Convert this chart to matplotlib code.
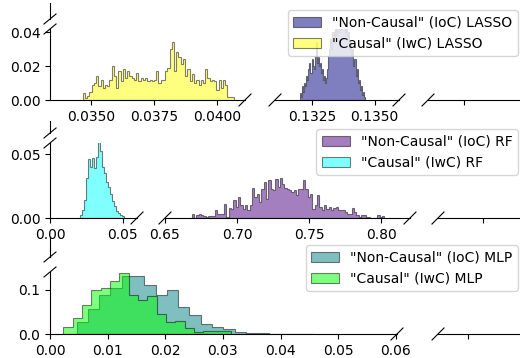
import numpy as np
import matplotlib.pyplot as plt
from matplotlib.lines import Line2D

W, H = 520, 358
plt.rcParams['font.size'] = 10

# LASSO weights per bin (fraction of runs)
lasso_ioc_start, lasso_ioc_width = 0.13202, 0.0000419
lasso_ioc = [0.004, 0.002, 0.008, 0.005, 0.010, 0.008, 0.014, 0.012, 0.018, 0.022,
             0.016, 0.024, 0.020, 0.018, 0.026, 0.034, 0.022, 0.025, 0.020, 0.022,
             0.016, 0.018, 0.012, 0.014, 0.010, 0.013, 0.018, 0.026, 0.030, 0.036,
             0.030, 0.040, 0.034, 0.046, 0.038, 0.044, 0.050, 0.040, 0.048, 0.042,
             0.052, 0.044, 0.048, 0.040, 0.046, 0.036, 0.040, 0.030, 0.034, 0.026,
             0.030, 0.020, 0.024, 0.014, 0.018, 0.010, 0.012, 0.006, 0.008, 0.003,
             0.005, 0.002]
lasso_iwc_start, lasso_iwc_width = 0.03466, 0.0000885
lasso_iwc = [0.004, 0.001, 0.0025, 0.005, 0.009, 0.010, 0.014, 0.008, 0.012, 0.007,
             0.009, 0.008, 0.012, 0.020, 0.014, 0.007, 0.017, 0.011, 0.018, 0.013,
             0.017, 0.014, 0.013, 0.012, 0.016, 0.011, 0.013, 0.012, 0.013, 0.011,
             0.012, 0.011, 0.012, 0.017, 0.010, 0.012, 0.012, 0.017, 0.019, 0.030,
             0.034, 0.017, 0.028, 0.025, 0.021, 0.024, 0.014, 0.018, 0.011, 0.015,
             0.010, 0.012, 0.009, 0.012, 0.010, 0.018, 0.013, 0.011, 0.012, 0.011,
             0.006, 0.012, 0.007, 0.012, 0.009, 0.0015, 0.002, 0.002]

# RF
rf_ioc_start, rf_ioc_width = 0.6685, 0.00161
rf_ioc = [0.0034, 0, 0.0021, 0.0034, 0.002, 0.0015, 0.0008, 0.0015, 0.0015, 0.0015,
          0.006, 0.0034, 0.0034, 0.0034, 0.0112, 0.0008, 0.0078, 0.0067, 0.0143, 0.0086,
          0.0164, 0.0099, 0.0073, 0.0104, 0.006, 0.0104, 0.0235, 0.0164, 0.019, 0.0125,
          0.0229, 0.0281, 0.015, 0.0294, 0.0229, 0.0216, 0.0307, 0.0242, 0.0313, 0.0268,
          0.0235, 0.0229, 0.0216, 0.0203, 0.0216, 0.0182, 0.0229, 0.0229, 0.0294, 0.0229,
          0.0164, 0.019, 0.0073, 0.0099, 0.0177, 0.0086, 0.006, 0.0104, 0.0073, 0.0086,
          0.006, 0.0078, 0.0086, 0.0065, 0.006, 0.006, 0.0047, 0.0034, 0.0034, 0.0078,
          0.0047, 0.0021, 0.0008, 0.0021, 0.0026, 0.0008, 0.0008, 0, 0, 0,
          0.0021, 0.0008, 0.0015]
rf_iwc_start, rf_iwc_width = 0.0208, 0.00136
rf_iwc = [0.0026, 0.0065, 0.014, 0.031, 0.046, 0.040, 0.047, 0.039, 0.048, 0.059,
          0.052, 0.040, 0.035, 0.028, 0.024, 0.019, 0.013, 0.009, 0.0057, 0.004,
          0.0026, 0.0018]

# MLP
mlp_ioc_start, mlp_ioc_width = 0.0046, 0.00196
mlp_ioc = [0.027, 0.057, 0.089, 0.104, 0.130, 0.131, 0.110, 0.087, 0.100, 0.062,
           0.042, 0.023, 0.015, 0.011, 0.004, 0.002, 0.002, 0, 0, 0, 0.001]
mlp_iwc_start, mlp_iwc_width = 0.0023, 0.00162
mlp_iwc = [0.016, 0.036, 0.065, 0.100, 0.104, 0.120, 0.138, 0.089, 0.077, 0.085,
           0.045, 0.027, 0.030, 0.0135, 0.0045, 0.006, 0.006, 0.006]

fig = plt.figure(figsize=(W / 100, H / 100), dpi=100)


def box(x0, x1, y0, y1):
    return fig.add_axes([x0 / W, 1 - y1 / H, (x1 - x0) / W, (y1 - y0) / H])


def slash(x, y, dx=6, dy=6):
    fig.add_artist(Line2D([(x - dx) / W, (x + dx) / W], [1 - (y + dy) / H, 1 - (y - dy) / H],
                          color='k', lw=0.8))


def hist(ax, start, width, weights, color):
    edges = start + width * np.arange(len(weights) + 1)
    _, _, p = ax.hist(edges[:-1] + width / 2, bins=edges, weights=weights,
                      histtype='stepfilled', color=color, alpha=0.5, edgecolor='k', lw=0.8)
    return p[0]


def make_row(upper, lower, segs, ymax, yticks, yfmt):
    top = box(segs[0][0], segs[0][1], *upper)
    top.spines[['top', 'right', 'bottom']].set_visible(False)
    top.set_xticks([])
    top.set_yticks([])
    top.patch.set_visible(False)
    slash(50, upper[1], 6, 5)
    slash(50, lower[0], 6, 5)
    axes = []
    for i, (x0, x1, xlim, xticks, xfmt) in enumerate(segs):
        ax = box(x0, x1, *lower)
        ax.patch.set_visible(False)
        ax.set_xlim(xlim)
        ax.set_ylim(0, ymax)
        ax.spines[['top', 'right']].set_visible(False)
        if i > 0:
            ax.spines['left'].set_visible(False)
            ax.set_yticks([])
            slash(x0, lower[1])
        else:
            ax.set_yticks(yticks)
            ax.set_yticklabels([yfmt % v for v in yticks])
        if x1 < W:
            slash(x1, lower[1])
        ax.set_xticks(xticks)
        ax.set_xticklabels([xfmt % v if xfmt else '' for v in xticks])
        axes.append(ax)
    return axes


# row 1: LASSO
a = make_row((3, 19), (29, 100),
             [(50, 245, (0.03336, 0.04111), [0.035, 0.0375, 0.04], '%.4f'),
              (275, 399, (0.13102, 0.13598), [0.1325, 0.135], '%.4f'),
              (428, 545, (0, 1), [0.31], None)],
             (100 - 29) / 1700, [0, 0.02, 0.04], '%.2f')
h1 = hist(a[1], lasso_ioc_start, lasso_ioc_width, lasso_ioc, 'navy')
h2 = hist(a[0], lasso_iwc_start, lasso_iwc_width, lasso_iwc, 'yellow')
fig.legend([h1, h2], ['"Non-Causal" (IoC) LASSO', '"Causal" (IwC) LASSO'],
           loc='upper right', bbox_to_anchor=(518 / W, 1 - 10 / H), borderaxespad=0)

# row 2: RF
a = make_row((121, 133), (143, 218),
             [(50, 137, (0, 0.06), [0, 0.05], '%.2f'),
              (165, 410, (0.65, 0.82), [0.65, 0.7, 0.75, 0.8], '%.2f'),
              (438, 545, (0, 1), [0.42], None)],
             75 / 1280, [0, 0.05], '%.2f')
h1 = hist(a[1], rf_ioc_start, rf_ioc_width, rf_ioc, 'indigo')
h2 = hist(a[0], rf_iwc_start, rf_iwc_width, rf_iwc, 'cyan')
fig.legend([h1, h2], ['"Non-Causal" (IoC) RF', '"Causal" (IwC) RF'],
           loc='upper right', bbox_to_anchor=(518 / W, 1 - 129 / H), borderaxespad=0)

# row 3: MLP
a = make_row((237, 257), (272, 334),
             [(50, 397, (0, 0.0602), [0, 0.01, 0.02, 0.03, 0.04, 0.05, 0.06], '%.2f'),
              (438, 545, (0, 1), [0.28], None)],
             62 / 443, [0, 0.1], '%.1f')
h1 = hist(a[0], mlp_ioc_start, mlp_ioc_width, mlp_ioc, 'teal')
h2 = hist(a[0], mlp_iwc_start, mlp_iwc_width, mlp_iwc, 'lime')
fig.legend([h1, h2], ['"Non-Causal" (IoC) MLP', '"Causal" (IwC) MLP'],
           loc='upper right', bbox_to_anchor=(518 / W, 1 - 245 / H), borderaxespad=0)

fig.savefig('out.png', dpi=100)
